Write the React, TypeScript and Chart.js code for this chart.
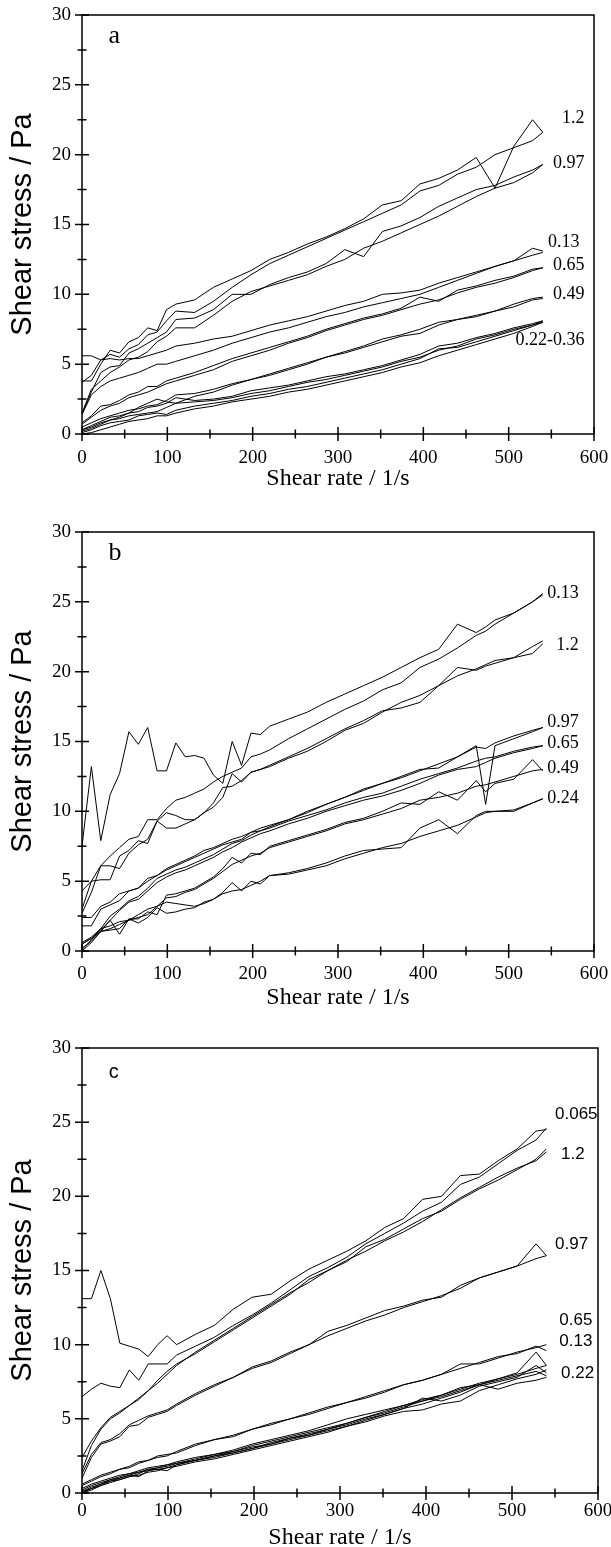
import React, { useEffect, useRef } from 'react';
import { Chart, registerables } from 'chart.js';

Chart.register(...registerables);

const SERIF = '"Liberation Serif", "Times New Roman", serif';
const SANS = '"Liberation Sans", Arial, sans-serif';

// ---------- Panel a ----------
const X_A = [0, 11, 22, 33, 44, 55, 66, 77, 88, 99, 110, 132, 154, 176, 198, 220, 242, 264, 286, 308, 330, 352, 374, 396, 418, 440, 462, 484, 506, 528, 540];
const A_12_UP = [3.8, 3.8, 5.0, 6.0, 5.8, 6.6, 6.9, 7.6, 7.4, 8.9, 9.3, 9.6, 10.5, 11.1, 11.7, 12.5, 13.0, 13.6, 14.1, 14.7, 15.4, 16.4, 16.7, 17.9, 18.3, 18.9, 19.8, 17.6, 20.6, 22.5, 21.6];
const A_12_DN = [3.7, 4.2, 5.3, 5.7, 5.5, 6.1, 6.4, 7.1, 7.3, 8.1, 8.8, 8.7, 9.5, 10.5, 11.4, 12.2, 12.8, 13.4, 14.0, 14.6, 15.2, 15.8, 16.4, 17.4, 17.8, 18.6, 19.1, 20.0, 20.5, 21.0, 21.6];
const A_097_UP = [1.4, 3.0, 4.4, 4.8, 4.9, 5.8, 6.1, 6.5, 6.9, 7.3, 8.2, 8.3, 8.9, 10.0, 10.0, 10.7, 11.2, 11.6, 12.2, 13.2, 12.7, 14.5, 14.9, 15.5, 16.3, 16.9, 17.5, 17.8, 18.4, 18.9, 19.3];
const A_097_DN = [1.5, 3.2, 3.8, 4.4, 4.8, 5.3, 5.5, 5.9, 6.6, 7.0, 7.6, 7.6, 8.5, 9.5, 10.2, 10.6, 11.0, 11.4, 12.0, 12.5, 13.3, 13.8, 14.4, 15.0, 15.6, 16.3, 17.0, 17.6, 18.0, 18.7, 19.3];
const A_013_UP = [5.6, 5.6, 5.3, 5.4, 5.3, 5.4, 5.4, 5.6, 5.8, 6.0, 6.3, 6.5, 6.8, 7.0, 7.4, 7.8, 8.1, 8.4, 8.8, 9.2, 9.5, 10.0, 10.1, 10.3, 10.8, 11.2, 11.6, 12.0, 12.4, 13.3, 13.1];
const A_013_DN = [1.4, 2.8, 3.4, 3.8, 4.0, 4.2, 4.4, 4.7, 5.0, 5.0, 5.2, 5.6, 6.0, 6.5, 6.9, 7.3, 7.6, 8.0, 8.4, 8.7, 9.1, 9.4, 9.7, 10.0, 10.5, 11.0, 11.5, 12.0, 12.4, 12.8, 13.0];
const A_065_UP = [0.8, 1.3, 2.0, 2.1, 2.4, 2.8, 3.0, 3.4, 3.4, 3.8, 4.0, 4.4, 4.9, 5.4, 5.8, 6.2, 6.6, 7.0, 7.5, 7.9, 8.3, 8.6, 9.0, 9.8, 9.5, 10.3, 10.6, 11.0, 11.3, 11.8, 11.9];
const A_065_DN = [0.7, 1.2, 1.7, 2.0, 2.2, 2.6, 2.8, 3.0, 3.3, 3.6, 3.8, 4.2, 4.6, 5.2, 5.6, 6.0, 6.5, 6.9, 7.4, 7.8, 8.2, 8.5, 8.9, 9.3, 9.6, 10.1, 10.5, 10.8, 11.2, 11.7, 11.9];
const A_049_UP = [0.5, 0.8, 1.1, 1.3, 1.5, 1.7, 1.8, 2.0, 2.1, 2.4, 2.8, 2.9, 3.2, 3.6, 3.9, 4.3, 4.7, 5.1, 5.5, 5.9, 6.3, 6.8, 7.1, 7.5, 8.0, 8.2, 8.5, 8.8, 9.3, 9.7, 9.8];
const A_049_DN = [0.3, 0.5, 0.8, 1.0, 1.2, 1.5, 1.9, 2.2, 2.5, 2.3, 2.2, 2.7, 3.0, 3.5, 3.9, 4.2, 4.6, 5.0, 5.5, 5.8, 6.2, 6.6, 7.0, 7.2, 7.8, 8.2, 8.4, 8.8, 9.1, 9.6, 9.7];
const A_022_UP = [0.3, 0.6, 0.9, 1.2, 1.3, 1.5, 1.6, 1.9, 2.0, 2.2, 2.6, 2.4, 2.5, 2.7, 3.1, 3.3, 3.5, 3.8, 4.1, 4.3, 4.6, 4.9, 5.3, 5.7, 6.3, 6.5, 6.9, 7.2, 7.6, 7.9, 8.1];
const A_022_DN = [0.2, 0.4, 0.7, 1.0, 1.1, 1.3, 1.4, 1.5, 1.6, 1.9, 2.2, 2.3, 2.4, 2.6, 2.9, 3.1, 3.4, 3.7, 3.9, 4.2, 4.5, 4.8, 5.2, 5.5, 6.0, 6.3, 6.8, 7.1, 7.5, 7.8, 8.1];
const A_036_UP = [0.1, 0.3, 0.6, 0.8, 0.9, 1.0, 1.3, 1.4, 1.5, 1.4, 1.7, 2.0, 2.2, 2.4, 2.7, 2.9, 3.2, 3.4, 3.7, 4.0, 4.3, 4.6, 5.0, 5.4, 6.1, 6.2, 6.6, 7.0, 7.4, 7.8, 8.0];
const A_036_DN = [0.0, 0.1, 0.3, 0.5, 0.7, 0.9, 1.0, 1.1, 1.3, 1.3, 1.5, 1.8, 2.0, 2.3, 2.5, 2.7, 3.0, 3.2, 3.5, 3.8, 4.1, 4.4, 4.8, 5.1, 5.6, 6.0, 6.4, 6.8, 7.2, 7.7, 8.0];
const A_LABELS = ['1.2', '0.97', '0.13', '0.65', '0.49', '0.22-0.36'];
const A_LABEL_X = [589, 589, 583, 589, 589, 589];
const A_LABEL_Y = [22.6, 19.4, 13.75, 12.07, 9.97, 6.7];

// ---------- Panel b ----------
const X_B = [0, 11, 22, 33, 44, 55, 66, 77, 88, 99, 110, 121, 132, 143, 154, 165, 176, 187, 198, 209, 220, 242, 264, 286, 308, 330, 352, 374, 396, 418, 440, 462, 473, 484, 506, 528, 540];
const B_013_UP = [7.5, 13.2, 7.9, 11.2, 12.7, 15.7, 14.8, 16.0, 12.9, 12.9, 14.9, 13.9, 14.0, 13.8, 12.6, 12.0, 15.0, 13.3, 15.6, 15.5, 16.1, 16.6, 17.1, 17.8, 18.4, 19.0, 19.6, 20.3, 21.0, 21.6, 23.4, 22.8, 23.2, 23.7, 24.2, 25.0, 25.5];
const B_013_DN = [4.3, 5.0, 6.1, 6.8, 7.4, 8.0, 8.2, 9.4, 9.4, 10.2, 10.8, 11.0, 11.3, 11.6, 12.1, 12.5, 12.8, 13.1, 13.9, 14.1, 14.4, 15.2, 15.9, 16.6, 17.3, 17.9, 18.7, 19.2, 20.3, 20.9, 21.7, 22.6, 22.9, 23.4, 24.2, 25.0, 25.6];
const B_12_UP = [3.0, 5.0, 5.1, 5.1, 6.8, 7.2, 7.9, 7.7, 9.3, 8.8, 8.8, 9.1, 9.4, 9.9, 10.3, 11.0, 12.7, 12.1, 12.8, 13.0, 13.3, 13.9, 14.5, 15.2, 15.9, 16.5, 17.2, 17.4, 17.8, 19.0, 20.3, 20.1, 20.4, 20.6, 21.0, 21.8, 22.2];
const B_12_DN = [2.7, 4.2, 6.1, 6.1, 5.9, 7.0, 7.6, 8.0, 9.3, 9.9, 9.7, 9.4, 9.4, 9.9, 10.6, 11.7, 11.8, 12.2, 12.8, 13.0, 13.2, 13.8, 14.3, 15.0, 15.8, 16.3, 17.1, 17.8, 18.3, 19.0, 19.7, 20.2, 20.5, 20.8, 21.0, 21.3, 22.0];
const B_097_UP = [2.4, 2.4, 3.2, 3.5, 4.1, 4.3, 4.5, 5.2, 5.4, 5.8, 6.1, 6.4, 6.7, 7.0, 7.3, 7.6, 7.8, 8.0, 8.5, 8.8, 9.0, 9.4, 9.9, 10.5, 11.0, 11.6, 12.0, 12.5, 13.0, 13.1, 13.9, 14.6, 14.5, 14.9, 15.4, 15.8, 16.0];
const B_097_DN = [1.8, 1.8, 3.0, 3.3, 3.6, 4.3, 4.5, 5.0, 5.4, 5.9, 6.2, 6.5, 6.8, 7.2, 7.4, 7.7, 8.0, 8.2, 8.5, 8.6, 8.9, 9.4, 10.0, 10.5, 11.0, 11.5, 12.0, 12.4, 12.9, 13.4, 13.9, 14.7, 10.5, 14.7, 15.2, 15.7, 16.0];
const B_065_UP = [0.6, 1.0, 1.6, 2.5, 3.0, 3.6, 3.9, 4.5, 5.2, 5.5, 5.8, 6.0, 6.3, 6.6, 6.9, 7.3, 7.7, 7.9, 8.3, 8.6, 8.8, 9.3, 9.7, 10.1, 10.6, 11.0, 11.3, 11.8, 12.3, 12.7, 13.1, 13.6, 13.8, 13.9, 14.3, 14.6, 14.7];
const B_065_DN = [0.5, 0.9, 1.5, 2.2, 2.9, 3.5, 3.7, 4.3, 4.9, 5.3, 5.6, 5.8, 6.1, 6.4, 6.7, 7.1, 7.4, 7.8, 8.1, 8.4, 8.6, 9.1, 9.5, 10.0, 10.4, 10.8, 11.1, 11.5, 12.0, 12.6, 13.0, 13.2, 13.5, 13.8, 14.2, 14.5, 14.7];
const B_049_UP = [0.5, 0.9, 1.4, 2.2, 1.2, 2.3, 2.3, 2.8, 2.6, 4.0, 4.1, 4.3, 4.5, 4.9, 5.3, 5.9, 6.7, 6.3, 7.0, 6.9, 7.5, 7.9, 8.3, 8.7, 9.2, 9.5, 10.0, 10.6, 10.5, 11.4, 10.8, 12.2, 11.4, 12.0, 12.3, 13.7, 12.9];
const B_049_DN = [0.2, 0.7, 1.4, 1.6, 1.9, 2.2, 2.6, 3.0, 3.2, 3.8, 3.9, 4.2, 4.4, 4.8, 5.2, 5.7, 6.2, 6.5, 6.8, 7.0, 7.4, 7.8, 8.2, 8.6, 9.1, 9.4, 9.8, 10.2, 10.8, 11.0, 11.3, 11.8, 11.9, 12.1, 12.5, 12.9, 13.0];
const B_024_UP = [0.0, 0.6, 1.4, 1.5, 1.6, 2.3, 2.0, 2.4, 3.1, 2.7, 2.8, 3.0, 3.1, 3.5, 3.7, 4.2, 4.9, 4.3, 5.0, 4.8, 5.4, 5.6, 5.9, 6.3, 6.8, 7.2, 7.3, 7.4, 8.8, 9.4, 8.4, 9.7, 10.0, 10.0, 10.0, 10.6, 10.9];
const B_024_DN = [0.1, 0.8, 1.6, 1.8, 2.1, 2.2, 2.4, 2.6, 3.2, 3.5, 3.4, 3.3, 3.2, 3.4, 3.7, 4.1, 4.3, 4.4, 4.7, 5.0, 5.4, 5.5, 5.8, 6.1, 6.6, 7.0, 7.4, 7.7, 8.2, 8.6, 9.0, 9.6, 9.9, 10.0, 10.1, 10.6, 10.9];
const B_LABELS = ['0.13', '1.2', '0.97', '0.65', '0.49', '0.24'];
const B_LABEL_X = [582, 582, 582, 582, 582, 582];
const B_LABEL_Y = [25.6, 21.9, 16.4, 14.86, 13.1, 10.97];

// ---------- Panel c ----------
const X_C = [0, 11, 22, 33, 44, 55, 66, 77, 88, 99, 110, 132, 154, 176, 198, 220, 242, 264, 286, 308, 330, 352, 374, 396, 418, 440, 462, 484, 506, 528, 540];
const C_0065_UP = [13.1, 13.1, 15.0, 13.1, 10.1, 9.9, 9.7, 9.2, 10.0, 10.6, 10.0, 10.7, 11.3, 12.4, 13.2, 13.4, 14.3, 15.1, 15.7, 16.3, 17.0, 17.9, 18.5, 19.8, 20.0, 21.4, 21.5, 22.4, 23.2, 24.4, 24.5];
const C_0065_DN = [6.5, 7.0, 7.4, 7.2, 7.1, 8.3, 7.6, 8.7, 8.7, 8.7, 9.3, 9.9, 10.5, 11.3, 12.0, 12.8, 13.7, 14.6, 15.2, 15.9, 16.8, 17.5, 18.2, 19.0, 19.6, 20.8, 21.3, 22.2, 23.1, 23.8, 24.6];
const C_12_UP = [2.4, 3.5, 4.4, 5.1, 5.5, 5.9, 6.3, 6.9, 7.4, 8.0, 8.6, 9.5, 10.3, 11.1, 11.9, 12.7, 13.5, 14.2, 15.0, 15.6, 16.6, 17.1, 17.8, 18.5, 19.0, 19.8, 20.5, 21.1, 21.8, 22.5, 23.2];
const C_12_DN = [1.5, 3.2, 4.3, 5.0, 5.4, 5.9, 6.4, 6.9, 7.6, 8.2, 8.7, 9.4, 10.2, 11.0, 11.8, 12.6, 13.4, 14.4, 15.0, 15.7, 16.3, 17.0, 17.6, 18.3, 19.1, 19.9, 20.6, 21.3, 21.9, 22.4, 23.0];
const C_097_UP = [1.3, 2.6, 3.4, 3.6, 4.0, 4.6, 4.9, 5.2, 5.4, 5.6, 6.0, 6.7, 7.3, 7.8, 8.5, 8.9, 9.5, 10.0, 10.9, 11.3, 11.8, 12.3, 12.6, 13.0, 13.2, 14.0, 14.5, 14.9, 15.3, 16.8, 16.0];
const C_097_DN = [1.0, 2.4, 3.3, 3.5, 3.8, 4.5, 4.6, 5.1, 5.3, 5.5, 5.9, 6.6, 7.2, 7.8, 8.4, 8.8, 9.4, 10.0, 10.6, 11.1, 11.6, 12.0, 12.5, 12.9, 13.3, 13.8, 14.5, 14.9, 15.3, 15.8, 16.0];
const C_065_UP = [0.6, 0.9, 1.2, 1.4, 1.6, 1.8, 2.1, 2.2, 2.5, 2.6, 2.7, 3.2, 3.6, 3.8, 4.3, 4.6, 5.0, 5.3, 5.7, 6.1, 6.5, 6.9, 7.3, 7.6, 8.0, 8.7, 8.7, 9.1, 9.5, 9.8, 10.0];
const C_065_DN = [0.5, 0.8, 1.1, 1.3, 1.6, 1.7, 2.0, 2.2, 2.4, 2.5, 2.8, 3.3, 3.6, 3.9, 4.3, 4.7, 5.0, 5.4, 5.8, 6.1, 6.4, 6.8, 7.3, 7.6, 8.0, 8.4, 8.8, 9.2, 9.4, 9.9, 9.6];
const C_013_UP = [0.3, 0.6, 0.8, 1.0, 1.2, 1.3, 1.5, 1.7, 1.8, 1.9, 2.1, 2.4, 2.6, 2.9, 3.3, 3.6, 3.9, 4.2, 4.6, 5.0, 5.3, 5.6, 5.9, 6.3, 6.6, 7.0, 7.4, 7.7, 8.1, 9.5, 8.6];
const C_013_DN = [0.2, 0.5, 0.7, 0.9, 1.1, 1.3, 1.4, 1.6, 1.7, 1.9, 2.0, 2.3, 2.6, 2.8, 3.2, 3.5, 3.8, 4.1, 4.4, 4.7, 5.1, 5.4, 5.8, 6.2, 6.5, 6.9, 7.3, 7.7, 8.0, 8.4, 8.6];
const C_022_UP = [0.1, 0.4, 0.6, 0.8, 1.0, 1.2, 1.1, 1.5, 1.6, 1.5, 1.9, 2.2, 2.4, 2.7, 3.0, 3.3, 3.7, 4.0, 4.3, 4.6, 5.0, 5.3, 5.7, 6.0, 6.4, 6.8, 7.3, 7.6, 7.9, 8.2, 7.9];
const C_022_DN = [0.0, 0.3, 0.5, 0.7, 0.9, 1.1, 1.2, 1.4, 1.5, 1.7, 1.8, 2.1, 2.3, 2.6, 2.9, 3.2, 3.5, 3.8, 4.1, 4.5, 4.8, 5.2, 5.5, 5.6, 6.0, 6.2, 6.9, 7.3, 7.7, 8.0, 8.3];
const C_022B_UP = [0.1, 0.3, 0.6, 0.9, 1.0, 1.2, 1.4, 1.5, 1.7, 1.8, 2.0, 2.2, 2.5, 2.8, 3.1, 3.3, 3.6, 3.9, 4.3, 4.7, 5.1, 5.5, 5.9, 6.2, 6.6, 7.1, 7.3, 7.0, 7.4, 7.6, 7.8];
const C_022B_DN = [0.0, 0.2, 0.5, 0.8, 0.9, 1.1, 1.3, 1.6, 1.6, 1.7, 1.9, 2.2, 2.5, 2.7, 3.0, 3.4, 3.7, 3.9, 4.2, 4.5, 4.9, 5.3, 5.7, 6.4, 6.2, 6.6, 7.2, 7.5, 7.8, 8.6, 8.1];
const C_LABELS = ['0.065', '1.2', '0.97', '0.65', '0.13', '0.22'];
const C_LABEL_X = [550, 557, 550, 555, 555, 557];
const C_LABEL_Y = [25.5, 22.8, 16.75, 11.64, 10.2, 8.07];

const X_TICK_LABELS_STEP = 100;
const Y_TICK_LABELS_STEP = 5;

type PanelCfg = {
  id: string;
  top: number;
  h: number;
  plotTop: number;
  plotBottom: number;
  plotRight: number;
  xPad: number;
  titleMid: number;
  xs: number[];
  series: number[][];
  labels: string[];
  labelX: number[];
  labelY: number[];
  labelAlign: CanvasTextAlign;
  labelFont: string;
  letter: string;
  letterFont: string;
};

const PANELS: PanelCfg[] = [
  {
    id: 'a', top: 0, h: 505, plotTop: 15, plotBottom: 434, plotRight: 594, xPad: 13, titleMid: 479,
    xs: X_A,
    series: [A_12_UP, A_12_DN, A_097_UP, A_097_DN, A_013_UP, A_013_DN, A_065_UP, A_065_DN, A_049_UP, A_049_DN, A_022_UP, A_022_DN, A_036_UP, A_036_DN],
    labels: A_LABELS, labelX: A_LABEL_X, labelY: A_LABEL_Y, labelAlign: 'right',
    labelFont: `18px ${SERIF}`, letter: 'a', letterFont: `26px ${SERIF}`,
  },
  {
    id: 'b', top: 505, h: 510, plotTop: 532, plotBottom: 951, plotRight: 594, xPad: 12, titleMid: 997.5,
    xs: X_B,
    series: [B_013_UP, B_013_DN, B_12_UP, B_12_DN, B_097_UP, B_097_DN, B_065_UP, B_065_DN, B_049_UP, B_049_DN, B_024_UP, B_024_DN],
    labels: B_LABELS, labelX: B_LABEL_X, labelY: B_LABEL_Y, labelAlign: 'right',
    labelFont: `18px ${SERIF}`, letter: 'b', letterFont: `26px ${SERIF}`,
  },
  {
    id: 'c', top: 1015, h: 545, plotTop: 1048, plotBottom: 1493, plotRight: 598, xPad: 7, titleMid: 1537.5,
    xs: X_C,
    series: [C_0065_UP, C_0065_DN, C_12_UP, C_12_DN, C_097_UP, C_097_DN, C_065_UP, C_065_DN, C_013_UP, C_013_DN, C_022_UP, C_022_DN, C_022B_UP, C_022B_DN],
    labels: C_LABELS, labelX: C_LABEL_X, labelY: C_LABEL_Y, labelAlign: 'left',
    labelFont: `17px ${SANS}`, letter: 'c', letterFont: `20px ${SANS}`,
  },
];

function framePlugin(cfg: PanelCfg) {
  return {
    id: 'frame_' + cfg.id,
    afterDraw(chart: any) {
      const { ctx, chartArea: a } = chart;
      const xs = chart.scales.x;
      const ys = chart.scales.y;
      ctx.save();
      ctx.strokeStyle = '#000';
      ctx.lineWidth = 1.5;
      ctx.strokeRect(a.left, a.top, a.right - a.left, a.bottom - a.top);
      ctx.beginPath();
      xs.ticks.forEach((t: any) => {
        const px = xs.getPixelForValue(t.value);
        ctx.moveTo(px, a.bottom - 7);
        ctx.lineTo(px, a.bottom + 7);
        const mv = t.value + X_TICK_LABELS_STEP / 2;
        if (mv < xs.max) {
          const mp = xs.getPixelForValue(mv);
          ctx.moveTo(mp, a.bottom - 4.5);
          ctx.lineTo(mp, a.bottom + 4.5);
        }
      });
      ys.ticks.forEach((t: any) => {
        const py = ys.getPixelForValue(t.value);
        ctx.moveTo(a.left - 7, py);
        ctx.lineTo(a.left + 7, py);
        const mv = t.value + Y_TICK_LABELS_STEP / 2;
        if (mv < ys.max) {
          const mp = ys.getPixelForValue(mv);
          ctx.moveTo(a.left - 4.5, mp);
          ctx.lineTo(a.left + 4.5, mp);
        }
      });
      ctx.stroke();
      ctx.fillStyle = '#000';
      ctx.font = cfg.labelFont;
      ctx.textAlign = cfg.labelAlign;
      ctx.textBaseline = 'middle';
      cfg.labels.forEach((txt, i) => {
        ctx.fillText(txt, xs.getPixelForValue(cfg.labelX[i]), ys.getPixelForValue(cfg.labelY[i]));
      });
      ctx.font = cfg.letterFont;
      ctx.textAlign = 'left';
      ctx.textBaseline = 'alphabetic';
      ctx.fillText(cfg.letter, xs.getPixelForValue(31), ys.getPixelForValue(28));
      ctx.restore();
    },
  };
}

function Panel({ cfg }: { cfg: PanelCfg }) {
  const ref = useRef<HTMLCanvasElement | null>(null);
  useEffect(() => {
    const canvas = ref.current;
    if (!canvas) return;
    const xH = cfg.top + cfg.h - cfg.plotBottom;
    const titlePadBottom = cfg.top + cfg.h - cfg.titleMid - 14.4;
    const chart = new Chart(canvas, {
      type: 'line',
      data: {
        datasets: cfg.series.map((ys, k) => ({
          label: cfg.id + k,
          data: cfg.xs.map((x, i) => ({ x, y: ys[i] })),
          borderColor: '#000',
          borderWidth: 1,
          pointRadius: 0,
          tension: 0,
          fill: false,
        })),
      },
      options: {
        animation: false,
        responsive: false,
        devicePixelRatio: 1,
        events: [],
        layout: {
          autoPadding: false,
          padding: { top: cfg.plotTop - cfg.top, right: 611 - cfg.plotRight, left: 0, bottom: 0 },
        },
        plugins: { legend: { display: false }, tooltip: { enabled: false } },
        scales: {
          x: {
            type: 'linear',
            min: 0,
            max: 600,
            grid: { display: false, drawTicks: false },
            border: { display: false },
            ticks: {
              stepSize: X_TICK_LABELS_STEP,
              color: '#000',
              padding: cfg.xPad,
              maxRotation: 0,
              autoSkip: false,
              font: { family: SERIF, size: 19 },
            },
            title: {
              display: true,
              text: 'Shear rate / 1/s',
              color: '#000',
              font: { family: SERIF, size: 24 },
              padding: { top: 0, bottom: titlePadBottom },
            },
            afterFit: (s: any) => {
              s.height = xH;
              s.paddingLeft = 0;
              s.paddingRight = 0;
            },
          },
          y: {
            type: 'linear',
            min: 0,
            max: 30,
            grid: { display: false, drawTicks: false },
            border: { display: false },
            ticks: {
              stepSize: Y_TICK_LABELS_STEP,
              color: '#000',
              padding: 11,
              font: { family: SERIF, size: 19 },
            },
            title: {
              display: true,
              text: 'Shear stress / Pa',
              color: '#000',
              font: { family: SANS, size: 29 },
              padding: { top: 5.6, bottom: 0 },
            },
            afterFit: (s: any) => {
              s.width = 82;
              s.paddingTop = 0;
              s.paddingBottom = 0;
            },
          },
        },
      } as any,
      plugins: [framePlugin(cfg)],
    });
    return () => chart.destroy();
  }, [cfg]);
  return (
    <canvas
      ref={ref}
      width={611}
      height={cfg.h}
      style={{ position: 'absolute', left: 0, top: cfg.top, width: 611, height: cfg.h, display: 'block' }}
    />
  );
}

export default function App() {
  return (
    <div
      style={{
        position: 'absolute',
        left: 0,
        top: 0,
        width: 611,
        height: 1547,
        overflow: 'hidden',
        background: '#fff',
      }}
    >
      {PANELS.map((p) => (
        <Panel key={p.id} cfg={p} />
      ))}
    </div>
  );
}
